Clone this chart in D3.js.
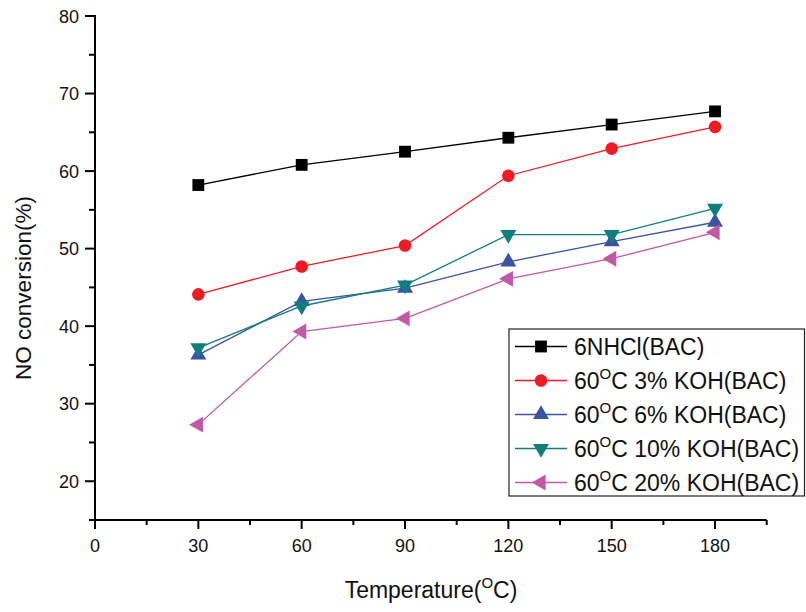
<!DOCTYPE html>
<html>
<head>
<meta charset="utf-8">
<script src="https://cdn.jsdelivr.net/npm/d3@7"></script>
<style>
  body { margin: 0; background: #fff; }
  text { font-family: "Liberation Sans", Arial, sans-serif; fill: #111; }
</style>
</head>
<body>
<div id="chart"></div>
<script>
// DATA
var temps = [30, 60, 90, 120, 150, 180];
var seriesNames = ['6NHCl(BAC)', '3% KOH(BAC)', '6% KOH(BAC)', '10% KOH(BAC)', '20% KOH(BAC)'];
var hcl = [58.2, 60.8, 62.5, 64.3, 66.0, 67.7];
var koh3 = [44.1, 47.7, 50.4, 59.4, 62.9, 65.7];
var koh6 = [36.3, 43.2, 44.9, 48.3, 50.9, 53.4];
var koh10 = [37.2, 42.6, 45.3, 51.8, 51.8, 55.2];
var koh20 = [27.3, 39.3, 41.0, 46.1, 48.7, 52.1];
var xTicks = [0, 30, 60, 90, 120, 150, 180];
var yTicks = [20, 30, 40, 50, 60, 70, 80];

var series = [
  { name: seriesNames[0], values: hcl, color: '#000000', symbol: d3.symbolSquare, size: 140, rot: 0, sup: false },
  { name: seriesNames[1], values: koh3, color: '#ed1c24', symbol: d3.symbolCircle, size: 125, rot: 0, sup: true },
  { name: seriesNames[2], values: koh6, color: '#3a53a4', symbol: d3.symbolTriangle, size: 110, rot: 0, sup: true },
  { name: seriesNames[3], values: koh10, color: '#0e7f7d', symbol: d3.symbolTriangle, size: 110, rot: 180, sup: true },
  { name: seriesNames[4], values: koh20, color: '#c159a5', symbol: d3.symbolTriangle, size: 110, rot: -90, sup: true }
];

var width = 806, height = 612;
var svg = d3.select('#chart').append('svg')
  .attr('width', width).attr('height', height);

var x = d3.scaleLinear().domain([0, 195]).range([95, 766.7]);
var y = d3.scaleLinear().domain([15, 80]).range([520, 16]);

// AXES
var xAxis = svg.append('g').attr('transform', 'translate(0,520)');
xAxis.append('line').attr('x1', 89).attr('x2', x(195)).attr('y1', 0).attr('y2', 0)
  .attr('stroke', '#000').attr('stroke-width', 2);
d3.range(0, 196, 15).forEach(function(t) {
  var major = t % 30 == 0;
  xAxis.append('line').attr('x1', x(t)).attr('x2', x(t)).attr('y1', 0).attr('y2', major ? 9 : 5)
    .attr('stroke', '#000').attr('stroke-width', 2);
});
xAxis.selectAll('.xl').data(xTicks).enter().append('text')
  .attr('x', function(d) { return x(d); }).attr('y', 32)
  .attr('text-anchor', 'middle').style('font-size', '18px')
  .text(function(d) { return d; });

var yAxis = svg.append('g').attr('transform', 'translate(95,0)');
yAxis.append('line').attr('x1', 0).attr('x2', 0).attr('y1', y(15) + 1).attr('y2', y(80) - 1)
  .attr('stroke', '#000').attr('stroke-width', 2);
d3.range(15, 81, 5).forEach(function(t) {
  var major = t % 10 == 0;
  yAxis.append('line').attr('x1', major ? -10 : -6).attr('x2', 0).attr('y1', y(t)).attr('y2', y(t))
    .attr('stroke', '#000').attr('stroke-width', 2);
});
yAxis.selectAll('.yl').data(yTicks).enter().append('text')
  .attr('x', -16).attr('y', function(d) { return y(d) + 6.5; })
  .attr('text-anchor', 'end').style('font-size', '18px')
  .text(function(d) { return d; });

// AXIS TITLES
svg.append('text').attr('transform', 'translate(31,288) rotate(-90)')
  .attr('text-anchor', 'middle').style('font-size', '22.5px').text('NO conversion(%)');

var xt = svg.append('text').attr('x', 431).attr('y', 598)
  .attr('text-anchor', 'middle').style('font-size', '23px');
xt.append('tspan').text('Temperature(');
xt.append('tspan').attr('dy', -10).style('font-size', '15px').text('O');
xt.append('tspan').attr('dy', 10).text('C)');

// LINES + MARKERS
var line = d3.line()
  .x(function(d, i) { return x(temps[i]); })
  .y(function(d) { return y(d); });

series.forEach(function(s) {
  svg.append('path').datum(s.values).attr('d', line)
    .attr('fill', 'none').attr('stroke', s.color).attr('stroke-width', 1.3);
});
series.forEach(function(s) {
  svg.selectAll(null).data(s.values).enter().append('path')
    .attr('d', d3.symbol().type(s.symbol).size(s.size))
    .attr('transform', function(d, i) {
      return 'translate(' + x(temps[i]) + ',' + y(d) + ') rotate(' + s.rot + ')';
    })
    .attr('fill', s.color);
});

// LEGEND
var legend = svg.append('g');
legend.append('rect').attr('x', 509).attr('y', 329).attr('width', 295.5).attr('height', 167)
  .attr('fill', '#fff').attr('stroke', '#222').attr('stroke-width', 1.2);
series.forEach(function(s, i) {
  var ly = 346.5 + i * 34;
  legend.append('line').attr('x1', 515).attr('x2', 567).attr('y1', ly).attr('y2', ly)
    .attr('stroke', s.color).attr('stroke-width', 1.3);
  legend.append('path').attr('d', d3.symbol().type(s.symbol).size(s.size))
    .attr('transform', 'translate(541,' + ly + ') rotate(' + s.rot + ')')
    .attr('fill', s.color);
  var t = legend.append('text').attr('x', 574).attr('y', ly + 8).style('font-size', '23px');
  if (s.sup) {
    t.append('tspan').text('60');
    t.append('tspan').attr('dy', -10).style('font-size', '15px').text('O');
    t.append('tspan').attr('dy', 10).text('C ' + s.name);
  } else {
    t.text(s.name);
  }
});
</script>
</body>
</html>
